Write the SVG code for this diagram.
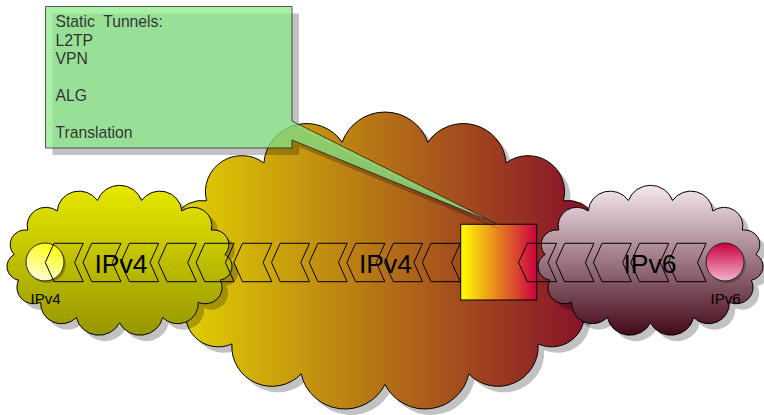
<svg xmlns="http://www.w3.org/2000/svg" width="764" height="415" viewBox="0 0 764 415">
<style>
.sh{fill:#000;fill-opacity:0.24;stroke:none}
.chev{fill:none;stroke:#000;stroke-width:1}
.big{font-family:"Liberation Sans",Arial,sans-serif;font-size:26.5px;fill:#000;text-anchor:middle}
.small{font-family:"Liberation Sans",Arial,sans-serif;font-size:15px;fill:#000;text-anchor:middle}
.nt{font-family:"Liberation Sans",Arial,sans-serif;font-size:15.7px;fill:#000;white-space:pre}
</style>
<defs>
<path id="cloud" vector-effect="non-scaling-stroke" d="M0,60 A21.7,21.7 0 0 1 -40.67,54.81 A19.5,19.5 0 0 1 -74.31,40.15 A15.9,15.9 0 0 1 -95.11,18.54 A13.4,13.4 0 0 1 -99.45,-6.27 A14.3,14.3 0 0 1 -86.6,-30 A17.7,17.7 0 0 1 -58.78,-48.54 A20.8,20.8 0 0 1 -20.79,-58.69 A22,22 0 0 1 20.79,-58.69 A20.8,20.8 0 0 1 58.78,-48.54 A17.7,17.7 0 0 1 86.6,-30 A14.3,14.3 0 0 1 99.45,-6.27 A13.4,13.4 0 0 1 95.11,18.54 A15.9,15.9 0 0 1 74.31,40.15 A19.5,19.5 0 0 1 40.67,54.81 A21.7,21.7 0 0 1 0,60 Z"/>
<polygon id="chev" points="0,0 29.3,0 20.6,19.2 29.3,38.4 0,38.4 -8.7,19.2"/>
<linearGradient id="gBig" x1="0" y1="0" x2="1" y2="0"><stop offset="0" stop-color="#e4d800"/><stop offset="1" stop-color="#84082c"/></linearGradient>
<linearGradient id="gL" x1="0" y1="0" x2="0" y2="1"><stop offset="0" stop-color="#e8e800"/><stop offset="1" stop-color="#969600"/></linearGradient>
<linearGradient id="gR" x1="0" y1="0" x2="0" y2="1"><stop offset="0" stop-color="#f6e8f0"/><stop offset="1" stop-color="#440818"/></linearGradient>
<linearGradient id="gBox" x1="0" y1="0" x2="1" y2="0"><stop offset="0" stop-color="#ffff00"/><stop offset="1" stop-color="#cc0040"/></linearGradient>
<linearGradient id="gC4" x1="0.7" y1="0" x2="0.3" y2="1"><stop offset="0" stop-color="#ffff00"/><stop offset="1" stop-color="#ffffe0"/></linearGradient>
<linearGradient id="gC6" x1="0" y1="0" x2="0" y2="1"><stop offset="0" stop-color="#c8003c"/><stop offset="1" stop-color="#f4b4d0"/></linearGradient>
</defs>

<g id="cloud-core">
<use href="#cloud" class="sh" transform="translate(391,268) scale(2.06,2.04)"/>
<use href="#cloud" fill="url(#gBig)" stroke="#000" transform="translate(385,262) scale(2.06,2.04)"/>
<text class="big" x="385.5" y="272.5">IPv4</text>
</g>

<g id="cloud-ipv4">
<use href="#cloud" class="sh" transform="translate(125.5,267) scale(1.06,1.03)"/>
<use href="#cloud" fill="url(#gL)" stroke="#000" transform="translate(119.5,261) scale(1.06,1.03)"/>
<text class="big" x="121" y="272.5">IPv4</text>
</g>

<g id="cloud-ipv6">
<use href="#cloud" class="sh" transform="translate(656.5,267) scale(1.06,1.03)"/>
<use href="#cloud" fill="url(#gR)" stroke="#000" transform="translate(650.5,261) scale(1.06,1.03)"/>
<text class="big" x="650" y="272.5">IPv6</text>
</g>

<g id="host-ipv4">
<circle cx="47" cy="264" r="19" class="sh"/>
<circle cx="45" cy="262" r="19" fill="url(#gC4)" stroke="#222"/>
<text class="small" x="45.5" y="304">IPv4</text>
</g>

<g id="host-ipv6">
<circle cx="727" cy="264" r="19" class="sh"/>
<circle cx="725" cy="262" r="19" fill="url(#gC6)" stroke="#222"/>
<text class="small" x="725.5" y="304">IPv6</text>
</g>

<g id="gateway">
<rect x="460.7" y="224.3" width="76" height="75.7" fill="url(#gBox)" stroke="#000"/>
</g>

<g id="connectors" class="chev">
<use href="#chev" x="54" y="243.3"/>
<use href="#chev" x="91.7" y="243.3"/>
<use href="#chev" x="129.4" y="243.3"/>
<use href="#chev" x="167.1" y="243.3"/>
<use href="#chev" x="204.8" y="243.3"/>
<use href="#chev" x="242.5" y="243.3"/>
<use href="#chev" x="280.2" y="243.3"/>
<use href="#chev" x="317.9" y="243.3"/>
<use href="#chev" x="355.6" y="243.3"/>
<use href="#chev" x="393.3" y="243.3"/>
<use href="#chev" x="431" y="243.3"/>
<use href="#chev" x="527.3" y="243.3"/>
<use href="#chev" x="564.7" y="243.3"/>
<use href="#chev" x="602.1" y="243.3"/>
<use href="#chev" x="639.5" y="243.3"/>
<use href="#chev" x="676.9" y="243.3"/>
</g>

<g id="note">
<path class="sh" transform="translate(7,7)" d="M45.5,6.5H292V121L498,224.5L292,140V148H45.5Z"/>
<g opacity="0.75">
<path d="M45.5,6.5H292V121L498,224.5L292,140V148H45.5Z" fill="#8beb8b" stroke="#222"/>
<text class="nt" x="55.5" y="27.3">Static  Tunnels:</text>
<text class="nt" x="55.5" y="45.8">L2TP</text>
<text class="nt" x="55.5" y="64.3">VPN</text>
<text class="nt" x="55.5" y="101.3">ALG</text>
<text class="nt" x="55.5" y="138.3">Translation</text>
</g>
</g>
</svg>
